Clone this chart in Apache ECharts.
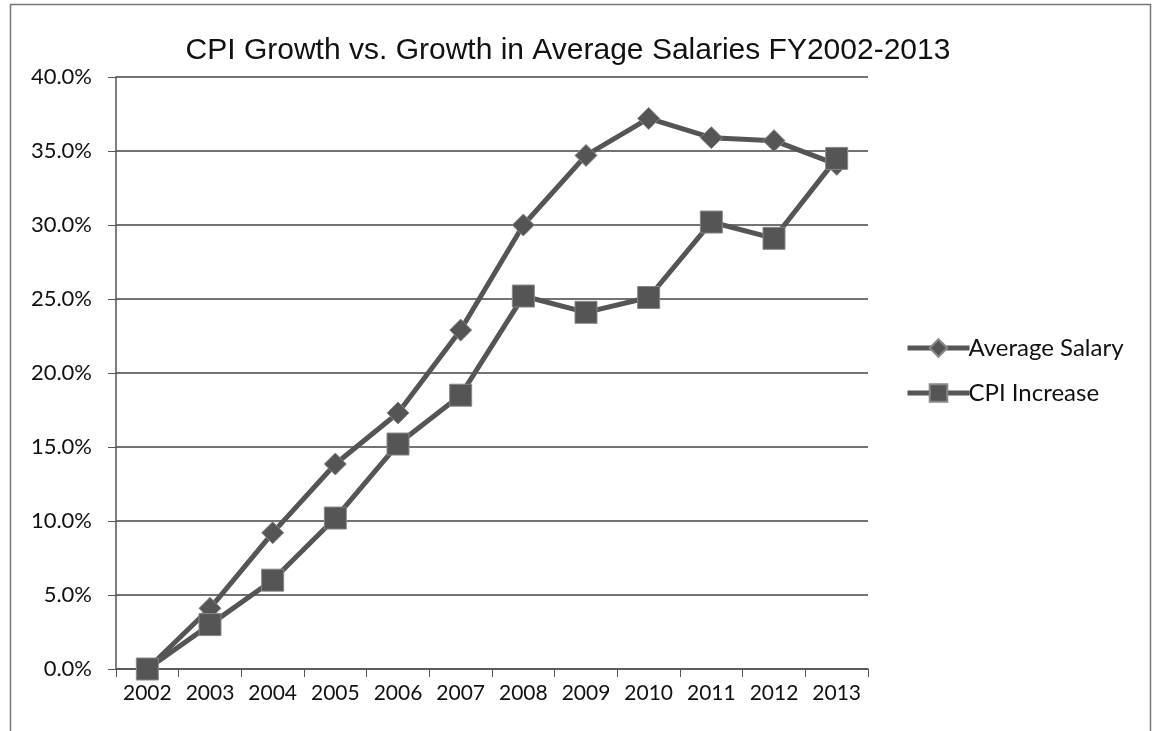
<!DOCTYPE html>
<html>
<head>
<meta charset="utf-8">
<script src="https://cdn.jsdelivr.net/npm/echarts@6/dist/echarts.min.js"></script>
<style>
  html, body { margin: 0; padding: 0; background: #fff; }
  #chart { width: 1155px; height: 731px; }
</style>
</head>
<body>
<div id="chart"></div>
<script>
// 年份与两条曲线（百分比）
const years = ['2002', '2003', '2004', '2005', '2006', '2007', '2008', '2009', '2010', '2011', '2012', '2013'];
const avgSalary = [0, 4.1, 9.2, 13.85, 17.3, 22.9, 30.0, 34.7, 37.2, 35.9, 35.7, 34.1];
const cpiIncrease = [0, 3.0, 6.0, 10.2, 15.2, 18.5, 25.2, 24.1, 25.1, 30.2, 29.1, 34.5];

const lineColor = '#555';
const labelFont = 'Lato, "Open Sans", sans-serif';

const chart = echarts.init(document.getElementById('chart'));

const option = {
    backgroundColor: '#fff',
    animation: false,
    title: {
        text: 'CPI Growth vs. Growth in Average Salaries FY2002-2013',
        left: 563,
        textAlign: 'center',
        top: 31,
        textStyle: {
            fontFamily: '"Liberation Sans", Arial, sans-serif',
            fontWeight: 'normal',
            fontSize: 30,
            color: '#111'
        }
    },
    graphic: [{
        type: 'rect',
        shape: { x: 10.5, y: 4.5, width: 1140, height: 740 },
        style: { fill: 'none', stroke: '#777', lineWidth: 1.5 },
        silent: true
    }],
    legend: {
        orient: 'vertical',
        left: 900,
        top: 331,
        itemGap: 21,
        itemWidth: 62,
        itemHeight: 22,
        data: ['Average Salary', 'CPI Increase'],
        lineStyle: { width: 5 },
        textStyle: {
            fontFamily: labelFont,
            fontSize: 24,
            color: '#111',
            padding: [0, 0, 0, -6]
        }
    },
    grid: {
        left: 116,
        right: 287,
        top: 77,
        bottom: 62
    },
    xAxis: {
        type: 'category',
        data: years,
        boundaryGap: true,
        axisLine: { lineStyle: { color: '#555', width: 1.5 } },
        axisTick: { show: true, length: 8, interval: 0, alignWithLabel: false, lineStyle: { color: '#555' } },
        axisLabel: {
            interval: 0,
            fontFamily: labelFont,
            fontSize: 21,
            color: '#111',
            margin: 14
        }
    },
    yAxis: {
        type: 'value',
        min: 0,
        max: 40,
        interval: 5,
        axisLine: { show: true, lineStyle: { color: '#555', width: 1.5 } },
        axisTick: { show: true, length: 8, lineStyle: { color: '#555' } },
        splitLine: { show: true, lineStyle: { color: '#444', width: 1.5 } },
        axisLabel: {
            fontFamily: labelFont,
            fontSize: 22,
            color: '#111',
            margin: 24,
            formatter: v => v.toFixed(1) + '%'
        }
    },
    series: [{
        name: 'Average Salary',
        type: 'line',
        data: avgSalary,
        symbol: 'diamond',
        symbolSize: 22,
        lineStyle: { color: lineColor, width: 5 },
        itemStyle: { color: lineColor, borderColor: '#888', borderWidth: 1 }
    }, {
        name: 'CPI Increase',
        type: 'line',
        data: cpiIncrease,
        symbol: 'rect',
        symbolSize: 22,
        lineStyle: { color: lineColor, width: 5 },
        itemStyle: { color: lineColor, borderColor: '#888', borderWidth: 1 }
    }]
};

chart.setOption(option);
</script>
</body>
</html>
